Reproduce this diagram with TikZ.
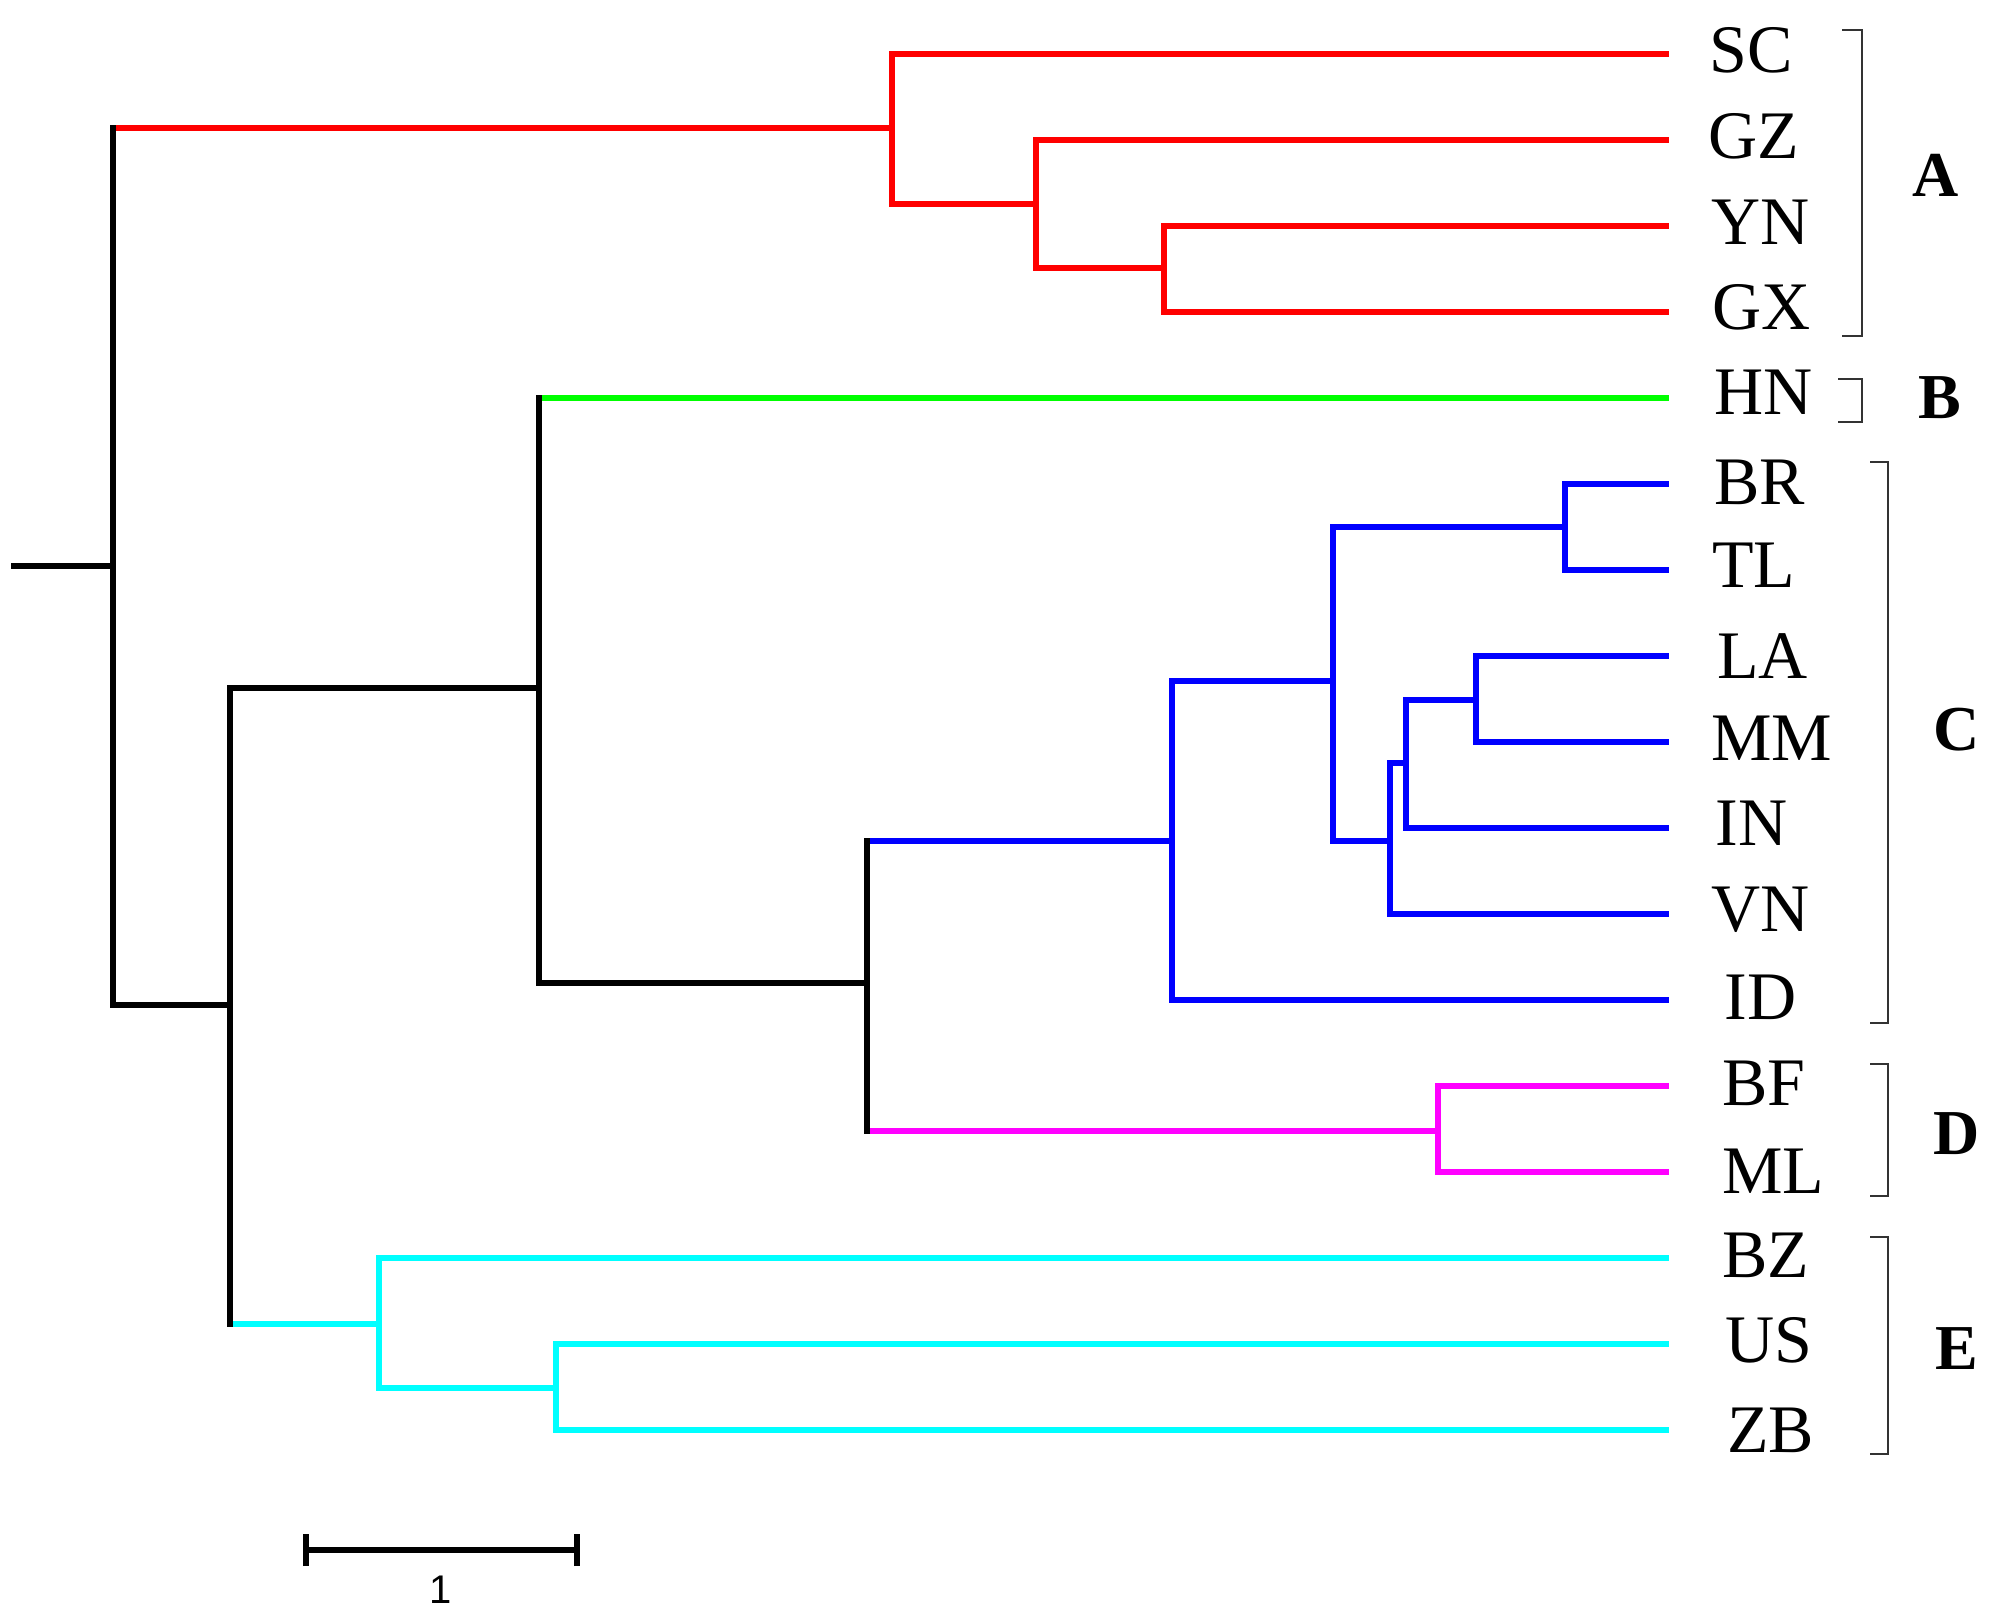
\documentclass[tikz,border=0pt]{standalone}
\usepackage{fontspec}
\setmainfont{Liberation Serif}
\newfontfamily\barfont{Liberation Sans}
\definecolor{cR}{RGB}{255,0,0}
\definecolor{cG}{RGB}{0,255,0}
\definecolor{cB}{RGB}{0,0,255}
\definecolor{cM}{RGB}{255,0,255}
\definecolor{cC}{RGB}{0,255,255}
\begin{document}
\begin{tikzpicture}[x=0.5pt,y=-0.5pt,
  br/.style={line width=2.6pt,line cap=rect,line join=miter},
  bracket/.style={line width=1.4pt,draw=black!80,line join=miter},
  leaf/.style={anchor=west,inner sep=0pt,font=\fontsize{34}{34}\selectfont},
  grp/.style={inner sep=0pt,font=\fontsize{32}{32}\selectfont\bfseries},
  barlbl/.style={inner sep=0pt,font=\barfont\fontsize{20}{20}\selectfont}]
\useasboundingbox (0,0) rectangle (2001,1621);
% leaf tips
\coordinate (tSC) at (1666,54);
\coordinate (tGZ) at (1666,140);
\coordinate (tYN) at (1666,226);
\coordinate (tGX) at (1666,312);
\coordinate (tHN) at (1666,398);
\coordinate (tBR) at (1666,484);
\coordinate (tTL) at (1666,570);
\coordinate (tLA) at (1666,656);
\coordinate (tMM) at (1666,742);
\coordinate (tIN) at (1666,828);
\coordinate (tVN) at (1666,914);
\coordinate (tID) at (1666,1000);
\coordinate (tBF) at (1666,1086);
\coordinate (tML) at (1666,1172);
\coordinate (tBZ) at (1666,1258);
\coordinate (tUS) at (1666,1344);
\coordinate (tZB) at (1666,1430);
% internal nodes
\coordinate (stub) at (14,566);
\coordinate (R) at (113,566);
\coordinate (nA) at (892,128);
\coordinate (nGZ) at (1036,204);
\coordinate (nYG) at (1164,268);
\coordinate (nX) at (230,1005);
\coordinate (nY) at (539,688);
\coordinate (nZ) at (867,983);
\coordinate (nC) at (1172,841);
\coordinate (nC1) at (1333,681);
\coordinate (nBT) at (1565,527);
\coordinate (nC2) at (1390,841);
\coordinate (nC3) at (1406,763);
\coordinate (nLM) at (1476,700);
\coordinate (nD) at (1438,1131);
\coordinate (nE) at (379,1324);
\coordinate (nUZ) at (556,1388);
% clade A (red)
\draw[br,cR] (R |- nA) -- (nA);
\draw[br,cR] (nA) |- (tSC);
\draw[br,cR] (nA) |- (nGZ);
\draw[br,cR] (nGZ) |- (tGZ);
\draw[br,cR] (nGZ) |- (nYG);
\draw[br,cR] (nYG) |- (tYN);
\draw[br,cR] (nYG) |- (tGX);
% clade B (green)
\draw[br,cG] (nY |- tHN) -- (tHN);
% clade C (blue)
\draw[br,cB] (nZ |- nC) -- (nC);
\draw[br,cB] (nC) |- (nC1);
\draw[br,cB] (nC) |- (tID);
\draw[br,cB] (nC1) |- (nBT);
\draw[br,cB] (nC1) |- (nC2);
\draw[br,cB] (nBT) |- (tBR);
\draw[br,cB] (nBT) |- (tTL);
\draw[br,cB] (nC2) |- (nC3);
\draw[br,cB] (nC2) |- (tVN);
\draw[br,cB] (nC3) |- (nLM);
\draw[br,cB] (nC3) |- (tIN);
\draw[br,cB] (nLM) |- (tLA);
\draw[br,cB] (nLM) |- (tMM);
% clade D (magenta)
\draw[br,cM] (nZ |- nD) -- (nD);
\draw[br,cM] (nD) |- (tBF);
\draw[br,cM] (nD) |- (tML);
% clade E (cyan)
\draw[br,cC] (nX |- nE) -- (nE);
\draw[br,cC] (nE) |- (tBZ);
\draw[br,cC] (nE) |- (nUZ);
\draw[br,cC] (nUZ) |- (tUS);
\draw[br,cC] (nUZ) |- (tZB);
% black backbone
\draw[br,black] (stub) -- (R);
\draw[br,black] (R) -- (R |- nA);
\draw[br,black] (R) |- (nX);
\draw[br,black] (nX) |- (nY);
\draw[br,black] (nX) -- (nX |- nE);
\draw[br,black] (nY) -- (nY |- tHN);
\draw[br,black] (nY) |- (nZ);
\draw[br,black] (nZ) -- (nZ |- nC);
\draw[br,black] (nZ) -- (nZ |- nD);
% leaf labels
\node[leaf] (SC) at (1709,50) {SC};
\node[leaf] (GZ) at (1708,136) {GZ};
\node[leaf] (YN) at (1711,222) {YN};
\node[leaf] (GX) at (1712,307) {GX};
\node[leaf] (HN) at (1714,392) {HN};
\node[leaf] (BR) at (1714,482) {BR};
\node[leaf] (TL) at (1712,565) {TL};
\node[leaf] (LA) at (1717,656) {LA};
\node[leaf] (MM) at (1711,738) {MM};
\node[leaf] (IN) at (1715,823) {IN};
\node[leaf] (VN) at (1711,910) {VN};
\node[leaf] (ID) at (1724,997) {ID};
\node[leaf] (BF) at (1722,1083) {BF};
\node[leaf] (ML) at (1722,1171) {ML};
\node[leaf] (BZ) at (1722,1255) {BZ};
\node[leaf] (US) at (1725,1340) {US};
\node[leaf] (ZB) at (1727,1430) {ZB};
% brackets
\draw[bracket] (1842,30) -- (1862,30) -- (1862,336) -- (1842,336);
\draw[bracket] (1838,379) -- (1862,379) -- (1862,422) -- (1838,422);
\draw[bracket] (1870,462) -- (1888,462) -- (1888,1023) -- (1870,1023);
\draw[bracket] (1870,1064) -- (1888,1064) -- (1888,1196) -- (1870,1196);
\draw[bracket] (1870,1237) -- (1888,1237) -- (1888,1454) -- (1870,1454);
\node[grp] (gA) at (1936,175) {A};
\node[grp] (gB) at (1940,398) {B};
\node[grp] (gC) at (1957,730) {C};
\node[grp] (gD) at (1957,1134) {D};
\node[grp] (gE) at (1957,1349) {E};
% scale bar
\coordinate (sb1) at (306,1550);
\coordinate (sb2) at (577,1550);
\draw[line width=2.6pt] (sb1) -- (sb2);
\draw[line width=2.6pt] ([yshift=-8pt]sb1) -- ([yshift=8pt]sb1);
\draw[line width=2.6pt] ([yshift=-8pt]sb2) -- ([yshift=8pt]sb2);
\node[barlbl] (one) at (441,1590) {1};
\end{tikzpicture}
\end{document}
